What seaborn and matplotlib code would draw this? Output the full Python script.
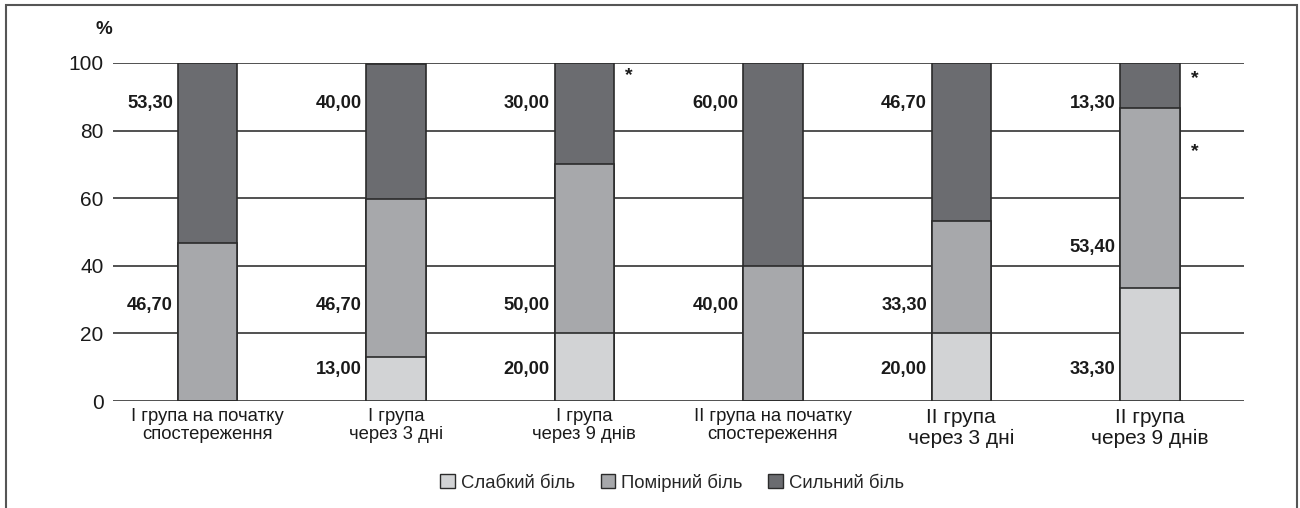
import numpy as np
import pandas as pd
import seaborn as sns
import matplotlib
matplotlib.use('Agg')
import matplotlib.pyplot as plt
from matplotlib.patches import Rectangle, Patch

groups = ["І група на початку\nспостереження", "І група\nчерез 3 дні", "І група\nчерез 9 днів",
          "ІІ група на початку\nспостереження", "ІІ група\nчерез 3 дні", "ІІ група\nчерез 9 днів"]
weak = [0.0, 13.0, 20.0, 0.0, 20.0, 33.3]
moderate = [46.7, 46.7, 50.0, 40.0, 33.3, 53.4]
strong = [53.3, 40.0, 30.0, 60.0, 46.7, 13.3]
series_names = ["Слабкий біль", "Помірний біль", "Сильний біль"]

# label placement (y in data units) for each segment value, None = no label
weak_label_y = [None, 9.2, 9.2, None, 9.2, 9.2]
moderate_label_y = [28.4, 28.4, 28.4, 28.4, 28.4, 45.5]
strong_label_y = [88, 88, 88, 88, 88, 88]
# significance asterisks: (bar index, y)
stars = [(2, 96.2), (5, 95.3), (5, 73.7)]
# category label font sizes (the last two are set larger in the original)
xlabel_sizes = [13.3, 13.3, 13.3, 13.3, 15, 15]

colors = ["#d2d3d5", "#a7a8ab", "#6b6c70"]
edge = "#2b2b2b"

sns.set_theme(style="white")
plt.rcParams['font.family'] = ['Liberation Sans', 'DejaVu Sans']

df = pd.DataFrame({"group": groups, "weak": weak, "moderate": moderate, "strong": strong})
df["cum_weak"] = df["weak"]
df["cum_mod"] = df["weak"] + df["moderate"]
df["cum_strong"] = df["cum_mod"] + df["strong"]

fig = plt.figure(figsize=(13, 5.08), dpi=100)
ax = fig.add_axes([0.087, 0.2106, 0.870, 0.6654])

for col, c in [("cum_strong", colors[2]), ("cum_mod", colors[1]), ("cum_weak", colors[0])]:
    sns.barplot(data=df, x="group", y=col, color=c, width=0.315, edgecolor=edge,
                linewidth=1.2, saturation=1, ax=ax, zorder=3)

ax.set_ylim(0, 100)
ax.set_xlim(-0.5, len(groups) - 0.5)
ax.set_yticks(range(0, 101, 20))
ax.yaxis.grid(True, color="#333333", linewidth=1.2, zorder=0)
ax.set_axisbelow(True)
for s in ax.spines.values():
    s.set_visible(False)
ax.set_xlabel("")
ax.set_ylabel("")
ax.tick_params(axis="y", labelsize=15, length=0, pad=7, colors="#1a1a1a")
ax.tick_params(axis="x", length=0, pad=5, colors="#1a1a1a")
for lbl, fs in zip(ax.get_xticklabels(), xlabel_sizes):
    lbl.set_fontsize(fs)
    lbl.set_linespacing(1.1)
ax.text(-0.008, 1.10, "%", transform=ax.transAxes, fontsize=13.5, fontweight="bold",
        ha="center", va="center", color="#1a1a1a")

half = 0.315 / 2
for vals, ys in [(weak, weak_label_y), (moderate, moderate_label_y), (strong, strong_label_y)]:
    for i, (v, y) in enumerate(zip(vals, ys)):
        if y is None:
            continue
        ax.text(i - half - 0.025, y, f"{v:.2f}".replace(".", ","), ha="right", va="center",
                fontsize=13.2, fontweight="bold", color="#1a1a1a")
for i, y in stars:
    ax.text(i + half + 0.08, y, "*", ha="center", va="center", fontsize=14,
            fontweight="bold", color="#1a1a1a")

handles = [Patch(facecolor=c, edgecolor=edge, linewidth=1.0) for c in colors]
fig.legend(handles, series_names, loc="center", bbox_to_anchor=(0.517, 0.05), ncol=3,
           frameon=False, fontsize=13.3, handlelength=0.8, handleheight=0.8,
           handletextpad=0.3, columnspacing=1.4)

fig.patches.append(Rectangle((0.0046, -0.02), 0.9931, 1.01, transform=fig.transFigure,
                             fill=False, edgecolor="#555555", linewidth=1.5))

fig.savefig("out.png", dpi=100)
